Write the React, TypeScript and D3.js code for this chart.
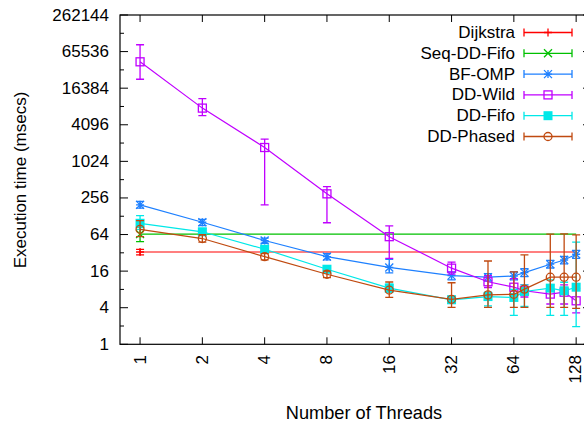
import React from "react";
import * as d3 from "d3";

const threads = [1, 2, 4, 8, 16, 32, 48, 64, 72, 96, 112, 128];
const yMajorTicks = [1, 4, 16, 64, 256, 1024, 4096, 16384, 65536, 262144];
const yMinorTicks = [2, 8, 32, 128, 512, 2048, 8192, 32768, 131072];
const xTicks = [1, 2, 4, 8, 16, 32, 64, 128];

// constant baselines (measured once, drawn across the thread range)
const dijkstraVal = [33];
const dijkstraLo = [29.5];
const dijkstraHi = [36.5];
const seqVal = [65];
const seqLo = [49];
const seqHi = [85];

const bfVal = [197, 102, 51, 27.7, 18.4, 13.5, 12.7, 13.3, 15.1, 20.8, 24.4, 30.3];
const bfHi = [224, 114, 56, 31, 25, 15.5, 14.5, 15.6, 17.5, 24, 28, 35];
const bfLo = [174, 90, 46, 24.5, 15, 11.5, 11, 11.5, 13, 18, 21, 26];

const wildVal = [44500, 7700, 1730, 299, 59, 17.9, 10.7, 8.7, 7.6, 6.7, 7.2, 5.2];
const wildHi = [85000, 11000, 2370, 394, 89, 22.5, 13.5, 12, 9.5, 9.5, 9.5, 8.3];
const wildLo = [23000, 5800, 197, 100, 26, 14.3, 8.6, 6.5, 6.0, 4.6, 4.6, 3.3];

const fifoVal = [98, 71, 36.7, 17.2, 8.4, 5.4, 6.1, 5.9, 7.4, 8.4, 7.6, 8.7];
const fifoHi = [131, 80, 41, 19.5, 9.8, 6.2, 7.2, 8, 9.5, 11.5, 10.5, 48];
const fifoLo = [78, 63, 33, 15, 7.2, 4.7, 4.3, 3.0, 4.2, 3.0, 3.0, 1.95];

const phasedVal = [78, 55, 27.7, 14.2, 7.8, 5.5, 6.5, 6.65, 8.1, 12.7, 12.7, 12.7];
const phasedHi = [108, 64, 31, 16, 10.6, 10.3, 23.5, 15.6, 29.5, 65, 65.5, 63];
const phasedLo = [59, 48, 24.5, 12.5, 5.9, 4.06, 4.06, 4.06, 4.06, 4.06, 4.06, 3.9];

const seriesNames = ["Dijkstra", "Seq-DD-Fifo", "BF-OMP", "DD-Wild", "DD-Fifo", "DD-Phased"];
const seriesColors = ["#ff0000", "#00c000", "#1e80ff", "#c000ff", "#00e8e8", "#c04a10"];
const seriesMarkers = ["plus", "cross", "star", "square", "fsquare", "circle"];

const FONT = "'Liberation Sans', Arial, Helvetica, sans-serif";

type Series = {
  name: string;
  color: string;
  marker: string;
  xs: number[];
  v: number[];
  lo: number[];
  hi: number[];
  baseline?: boolean;
};

const series: Series[] = [
  { name: seriesNames[0], color: seriesColors[0], marker: seriesMarkers[0], xs: [threads[0]], v: dijkstraVal, lo: dijkstraLo, hi: dijkstraHi, baseline: true },
  { name: seriesNames[1], color: seriesColors[1], marker: seriesMarkers[1], xs: [threads[0]], v: seqVal, lo: seqLo, hi: seqHi, baseline: true },
  { name: seriesNames[2], color: seriesColors[2], marker: seriesMarkers[2], xs: threads, v: bfVal, lo: bfLo, hi: bfHi },
  { name: seriesNames[3], color: seriesColors[3], marker: seriesMarkers[3], xs: threads, v: wildVal, lo: wildLo, hi: wildHi },
  { name: seriesNames[4], color: seriesColors[4], marker: seriesMarkers[4], xs: threads, v: fifoVal, lo: fifoLo, hi: fifoHi },
  { name: seriesNames[5], color: seriesColors[5], marker: seriesMarkers[5], xs: threads, v: phasedVal, lo: phasedLo, hi: phasedHi },
];

function Marker({ type, x, y, color }: { type: string; x: number; y: number; color: string }) {
  const s = 4;
  const sw = 1.3;
  if (type === "plus")
    return <path d={`M${x - s},${y}H${x + s}M${x},${y - s}V${y + s}`} stroke={color} strokeWidth={sw} fill="none" />;
  if (type === "cross")
    return <path d={`M${x - s},${y - s}L${x + s},${y + s}M${x - s},${y + s}L${x + s},${y - s}`} stroke={color} strokeWidth={sw} fill="none" />;
  if (type === "star")
    return (
      <path
        d={`M${x - s},${y}H${x + s}M${x},${y - s}V${y + s}M${x - s},${y - s}L${x + s},${y + s}M${x - s},${y + s}L${x + s},${y - s}`}
        stroke={color}
        strokeWidth={sw}
        fill="none"
      />
    );
  if (type === "square")
    return <rect x={x - s} y={y - s} width={2 * s} height={2 * s} stroke={color} strokeWidth={sw} fill="none" />;
  if (type === "fsquare")
    return <rect x={x - s - 0.5} y={y - s - 0.5} width={2 * s + 1} height={2 * s + 1} fill={color} stroke="none" />;
  return <circle cx={x} cy={y} r={s} stroke={color} strokeWidth={sw} fill="none" />;
}

export default function App() {
  const W = 584;
  const H = 423;
  const left = 120;
  const right = 591;
  const top = 15;
  const bottom = 344.3;

  const x = d3.scaleLog().base(2).domain([0.8, 151]).range([left, right]);
  const y = d3.scaleLog().base(2).domain([1, 262144]).range([bottom, top]);

  const cap = 4;
  const legendX0 = 524;
  const legendX1 = 572;
  const legendTextX = 515;
  const legendY0 = 32.5;
  const legendStep = 20.8;

  return (
    <svg
      width={W}
      height={H}
      style={{ position: "absolute", left: 0, top: 0, background: "#fff" }}
      fontFamily={FONT}
    >
      <rect x={0} y={0} width={W} height={H} fill="#fff" />
      {/* ticks */}
      <g stroke="#000" strokeWidth={1}>
        {yMajorTicks.map((t) => (
          <g key={"ym" + t}>
            <line x1={left} x2={left + 8} y1={y(t)} y2={y(t)} />
            <line x1={right} x2={right - 8} y1={y(t)} y2={y(t)} />
          </g>
        ))}
        {yMinorTicks.map((t) => (
          <g key={"yn" + t}>
            <line x1={left} x2={left + 4} y1={y(t)} y2={y(t)} />
            <line x1={right} x2={right - 4} y1={y(t)} y2={y(t)} />
          </g>
        ))}
        {xTicks.map((t) => (
          <g key={"xt" + t}>
            <line x1={x(t)} x2={x(t)} y1={bottom} y2={bottom - 7} />
            <line x1={x(t)} x2={x(t)} y1={top} y2={top + 7} />
          </g>
        ))}
      </g>
      {/* tick labels */}
      <g fontSize={17} fill="#000">
        {yMajorTicks.map((t) => (
          <text key={"yl" + t} x={109} y={y(t)} textAnchor="end" dominantBaseline="central">
            {String(t)}
          </text>
        ))}
        {xTicks.map((t) => (
          <text
            key={"xl" + t}
            transform={`translate(${Math.min(x(t), 575.5)},355) rotate(-90)`}
            textAnchor="end"
            dominantBaseline="central"
          >
            {String(t)}
          </text>
        ))}
      </g>
      {/* axis labels */}
      <text
        fontSize={17}
        transform={`translate(20,180) rotate(-90)`}
        textAnchor="middle"
        dominantBaseline="central"
      >
        Execution time (msecs)
      </text>
      <text fontSize={18.2} x={364} y={419} textAnchor="middle">
        Number of Threads
      </text>

      {/* series */}
      {series.map((s) => {
        const pts = s.xs.map((t, i) => [x(t), y(s.v[i])] as [number, number]);
        const linePts: [number, number][] = s.baseline
          ? [
              [x(threads[0]), y(s.v[0])],
              [x(threads[threads.length - 1]), y(s.v[0])],
            ]
          : pts;
        const lp = d3.line()(linePts) || "";
        return (
          <g key={s.name}>
            {s.xs.map((t, i) => {
              const cx = x(t);
              const y1 = y(s.hi[i]);
              const y2 = y(s.lo[i]);
              return (
                <path
                  key={i}
                  d={`M${cx},${y1}V${y2}M${cx - cap},${y1}H${cx + cap}M${cx - cap},${y2}H${cx + cap}`}
                  stroke={s.color}
                  strokeWidth={1.3}
                  fill="none"
                />
              );
            })}
            <path d={lp} stroke={s.color} strokeWidth={1.2} fill="none" />
            {pts.map((p, i) => (
              <Marker key={i} type={s.marker} x={p[0]} y={p[1]} color={s.color} />
            ))}
          </g>
        );
      })}

      {/* frame */}
      <rect x={left} y={top} width={right - left} height={bottom - top} fill="none" stroke="#000" strokeWidth={1.2} />

      {/* legend */}
      {series.map((s, i) => {
        const ly = legendY0 + i * legendStep;
        return (
          <g key={"lg" + s.name}>
            <text x={legendTextX} y={ly} fontSize={17} textAnchor="end" dominantBaseline="central">
              {s.name}
            </text>
            <path
              d={`M${legendX0},${ly}H${legendX1}M${legendX0},${ly - cap}V${ly + cap}M${legendX1},${ly - cap}V${ly + cap}`}
              stroke={s.color}
              strokeWidth={1.3}
              fill="none"
            />
            <Marker type={s.marker} x={(legendX0 + legendX1) / 2} y={ly} color={s.color} />
          </g>
        );
      })}
    </svg>
  );
}
